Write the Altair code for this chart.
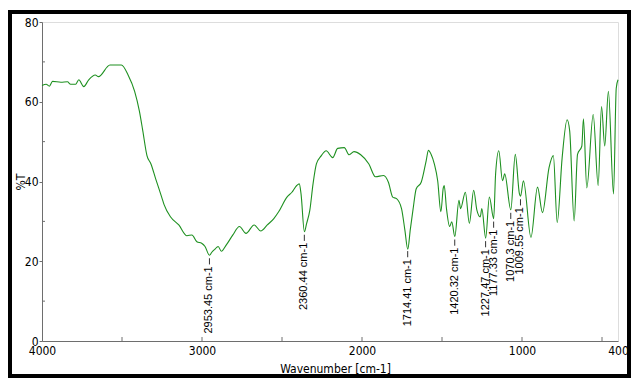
import altair as alt
import pandas as pd

# Spectrum trace (wavenumber cm-1, %T)
wavenumber = [4000, 3974, 3954, 3934, 3882, 3841, 3821, 3790, 3770, 3739, 3708, 3667, 3647,
              3575, 3504, 3462, 3421, 3391, 3370, 3344, 3319, 3289, 3252, 3237, 3196, 3145,
              3094, 3063, 3032, 3002, 2981, 2953, 2940, 2920, 2899, 2879, 2848, 2807, 2766,
              2725, 2674, 2633, 2592, 2551, 2521, 2469, 2438, 2408, 2392, 2381, 2360, 2346,
              2326, 2306, 2285, 2254, 2224, 2183, 2152, 2111, 2080, 2050, 2008, 1957, 1916,
              1865, 1835, 1808, 1784, 1753, 1732, 1714, 1698, 1681, 1661, 1630, 1599, 1585,
              1569, 1548, 1527, 1507, 1492, 1486, 1472, 1452, 1439, 1420, 1394, 1384, 1354,
              1329, 1302, 1282, 1261, 1251, 1227, 1204, 1177, 1165, 1145, 1122, 1108, 1070,
              1042, 1016, 1009, 991, 944, 903, 872, 831, 804, 780, 749, 718, 702, 674, 653,
              626, 616, 595, 555, 524, 503, 483, 460, 428, 411, 400]
transmittance = [64.1, 64.4, 63.9, 65.1, 64.9, 65.0, 64.4, 64.4, 65.5, 63.8, 65.5, 66.7, 66.3,
                 69.2, 69.2, 66.7, 62.6, 57.6, 52.7, 46.5, 44.4, 40.6, 36.1, 34.2, 31.1, 29.1,
                 26.4, 26.6, 24.9, 24.5, 23.7, 21.5, 22.2, 23.0, 23.7, 22.5, 24.1, 26.6, 28.7,
                 27.0, 29.1, 27.6, 29.1, 30.7, 32.4, 36.1, 37.3, 39.0, 39.4, 36.9, 27.4, 29.5,
                 32.8, 39.4, 44.4, 46.5, 47.7, 46.0, 48.3, 48.5, 46.7, 47.5, 46.7, 44.4, 41.2,
                 41.5, 39.8, 36.1, 35.7, 33.2, 27.8, 23.0, 28.0, 33.0, 38.2, 39.8, 45.2, 47.8,
                 46.9, 44.4, 40.2, 32.4, 38.4, 39.0, 33.2, 28.7, 29.9, 26.2, 35.3, 33.2, 37.3,
                 29.5, 37.8, 32.8, 31.1, 33.2, 25.8, 36.1, 30.7, 41.9, 47.7, 40.2, 41.9, 32.9,
                 46.8, 36.9, 36.3, 40.2, 26.0, 38.6, 32.2, 43.5, 46.5, 29.7, 46.0, 55.5, 52.7,
                 30.1, 46.8, 48.9, 55.7, 38.4, 56.8, 39.0, 58.8, 48.9, 62.6, 36.9, 63.4, 65.5]

# Peak annotations
peak_wn = [2953.45, 2360.44, 1714.41, 1420.32, 1227.47, 1177.33, 1070.3, 1009.55]
peak_t = [21.5, 27.4, 23.3, 26.2, 25.8, 30.7, 32.9, 36.3]
peak_label = ["2953.45 cm-1", "2360.44 cm-1", "1714.41 cm-1", "1420.32 cm-1",
              "1227.47 cm-1", "1177.33 cm-1", "1070.3 cm-1", "1009.55 cm-1"]

x_label_values = [4000, 3000, 2000, 1000, 400]
x_tick_values = [3500, 3000, 2500, 2000, 1500, 1000, 500]
y_label_values = [0, 20, 40, 60, 80]
y_minor_values = [10, 30, 50, 70]

W, H = 576, 319
NARROW = "Liberation Sans Narrow, Arial Narrow, DejaVu Sans Condensed, sans-serif"

spec = pd.DataFrame({"wn": wavenumber, "t": transmittance, "i": range(len(wavenumber))})
peaks = pd.DataFrame({"wn": peak_wn, "t": peak_t, "label": peak_label})

xscale = alt.Scale(domain=[4000, 400], nice=False)
yscale = alt.Scale(domain=[0, 80], nice=False)

xaxis = alt.Axis(values=x_label_values, format="d", ticks=False, grid=False, labelFlush=False,
                 labelPadding=4, labelFont=NARROW, labelFontSize=12, labelColor="#000",
                 title="Wavenumber [cm-1]", titleFont=NARROW, titleFontSize=12,
                 titleFontWeight="normal", titleColor="#000", titleX=W / 2 + 5, titleY=27,
                 titleBaseline="middle", domainColor="#6e6e6e")
yaxis = alt.Axis(values=y_label_values, format="d", tickSize=3, tickColor="#6e6e6e", grid=False,
                 labelPadding=1, labelFont=NARROW, labelFontSize=12, labelColor="#000",
                 title="%T", titleFont=NARROW, titleFontSize=12, titleFontWeight="normal",
                 titleColor="#000", titleX=-22, titleY=H / 2, titleBaseline="middle",
                 domainColor="#6e6e6e")

line = alt.Chart(spec).mark_line(color="#1e9020", strokeWidth=1.1, interpolate="monotone").encode(
    x=alt.X("wn:Q", scale=xscale, axis=xaxis),
    y=alt.Y("t:Q", scale=yscale, axis=yaxis),
    order="i:Q",
)

xt = alt.Chart(pd.DataFrame({"v": x_tick_values})).mark_rule(color="#6e6e6e").encode(
    x=alt.X("v:Q", scale=xscale), y=alt.value(H), y2=alt.value(H - 4))
yt = alt.Chart(pd.DataFrame({"v": y_minor_values})).mark_rule(color="#6e6e6e").encode(
    y=alt.Y("v:Q", scale=yscale), x=alt.value(0), x2=alt.value(3))

marks = alt.Chart(peaks).transform_calculate(
    a="datum.t - 0.75", b="datum.t - 2.3"
).mark_rule(color="#333", strokeWidth=1).encode(
    x=alt.X("wn:Q", scale=xscale), y=alt.Y("a:Q", scale=yscale), y2="b:Q")

labels = alt.Chart(peaks).mark_text(
    angle=270, align="right", baseline="middle", dx=-11, fontSize=11,
    font="Liberation Sans, Arial, sans-serif", color="#000"
).encode(x=alt.X("wn:Q", scale=xscale), y=alt.Y("t:Q", scale=yscale), text="label:N")

frame = alt.Chart(pd.DataFrame({"a": [0]})).mark_rect(
    fill=None, stroke="#000", strokeWidth=4
).encode(x=alt.value(-32), x2=alt.value(587), y=alt.value(-10), y2=alt.value(354))

chart = alt.layer(line, xt, yt, marks, labels, frame).properties(
    width=W, height=H,
    autosize=alt.AutoSizeParams(type="none"),
    padding={"left": 34, "top": 14, "right": 13, "bottom": 37},
).configure_view(stroke="#8a8a8a", strokeWidth=1).configure(background="white")

chart.save("out.html", embed_options={"renderer": "svg", "actions": False})
